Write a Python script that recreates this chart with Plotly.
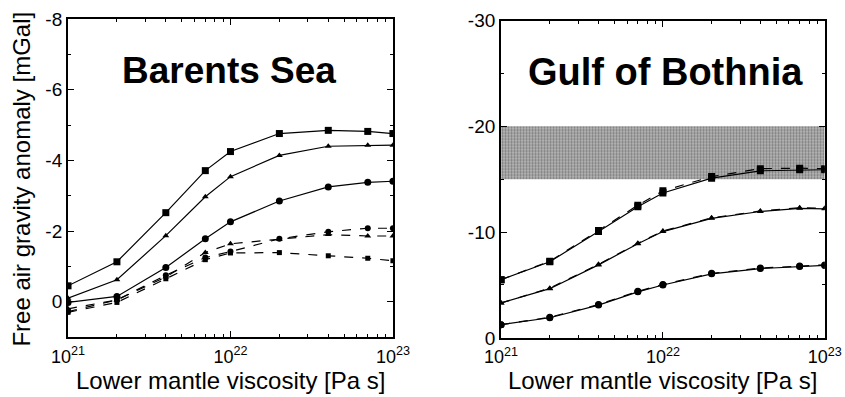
import plotly.graph_objects as go

# Lower mantle viscosity sample points [Pa s]
viscosity = [1e21, 2e21, 4e21, 7e21, 1e22, 2e22, 4e22, 7e22, 1e23]

# Barents Sea free air gravity anomaly [mGal]
barents_sq_solid = [-0.45, -1.13, -2.52, -3.71, -4.25, -4.76, -4.85, -4.82, -4.76]
barents_tri_solid = [-0.10, -0.62, -1.87, -2.97, -3.54, -4.14, -4.40, -4.43, -4.43]
barents_ci_solid = [0.02, -0.15, -0.97, -1.78, -2.26, -2.85, -3.25, -3.38, -3.41]
barents_ci_dash = [0.28, -0.05, -0.75, -1.25, -1.42, -1.78, -1.98, -2.08, -2.08]
barents_tri_dash = [0.20, -0.05, -0.70, -1.39, -1.64, -1.76, -1.90, -1.86, -1.86]
barents_sq_dash = [0.30, 0.02, -0.65, -1.19, -1.38, -1.39, -1.30, -1.23, -1.16]

# Gulf of Bothnia free air gravity anomaly [mGal]
bothnia_sq_solid = [-5.5, -7.2, -10.05, -12.4, -13.7, -15.1, -15.8, -15.9, -15.9]
bothnia_tri_solid = [-3.3, -4.65, -6.9, -8.9, -10.05, -11.3, -11.95, -12.25, -12.2]
bothnia_ci_solid = [-1.25, -1.9, -3.1, -4.35, -5.0, -6.05, -6.55, -6.75, -6.85]
bothnia_sq_dash = [-5.5, -7.25, -10.15, -12.55, -13.9, -15.25, -16.0, -16.05, -16.0]
bothnia_tri_dash = [-3.3, -4.7, -6.95, -8.95, -10.1, -11.35, -12.0, -12.3, -12.25]
bothnia_ci_dash = [-1.25, -1.95, -3.15, -4.4, -5.05, -6.1, -6.6, -6.8, -6.9]

# Observed range for the Gulf of Bothnia [mGal]
observed_band = [-20, -15]

x_tickvals = [1e21, 1e22, 1e23]
x_ticktext = ["10<sup>21</sup>", "10<sup>22</sup>", "10<sup>23</sup>"]
x_minor_tickvals = [m * 10.0 ** e for e in (21, 22) for m in range(2, 10)]
barents_yticks = [0, -2, -4, -6, -8]
barents_yticktext = ["0", "-2", "-4", "-6", "-8"]
bothnia_yticks = [0, -10, -20, -30]
bothnia_yticktext = ["0", "-10", "-20", "-30"]

FONT = "Liberation Sans, Arial, Helvetica, sans-serif"
X_TITLE = "Lower mantle viscosity [Pa s]"
Y_TITLE = "Free air gravity anomaly [mGal]"

fig = go.Figure()

# observed band (drawn first so curves sit on top)
fig.add_trace(go.Scatter(
    x=[viscosity[0], viscosity[-1], viscosity[-1], viscosity[0], viscosity[0]],
    y=[observed_band[0], observed_band[0], observed_band[1], observed_band[1], observed_band[0]],
    xaxis="x2", yaxis="y2", mode="lines", line=dict(width=0),
    fill="toself", fillcolor="#aaaaaa",
    fillpattern=dict(shape=".", bgcolor="#bbbbbb", fgcolor="#3a3a3a",
                     size=3, solidity=0.45),
    hoverinfo="skip", showlegend=False,
))


def add_curve(y, symbol, dash, axis, size):
    xa, ya = ("x", "y") if axis == 1 else ("x2", "y2")
    fig.add_trace(go.Scatter(
        x=viscosity, y=y, xaxis=xa, yaxis=ya,
        mode="lines+markers",
        line=dict(color="black", width=1.2, dash=dash),
        marker=dict(symbol=symbol, size=size, color="black"),
        showlegend=False,
    ))


add_curve(barents_sq_dash, "square", "dash", 1, 5)
add_curve(barents_tri_dash, "triangle-up", "dash", 1, 6)
add_curve(barents_ci_dash, "circle", "dash", 1, 6)
add_curve(barents_sq_solid, "square", "solid", 1, 7)
add_curve(barents_tri_solid, "triangle-up", "solid", 1, 6)
add_curve(barents_ci_solid, "circle", "solid", 1, 7)

add_curve(bothnia_sq_dash, "square", "dash", 2, 7)
add_curve(bothnia_tri_dash, "triangle-up", "dash", 2, 6)
add_curve(bothnia_ci_dash, "circle", "dash", 2, 7)
add_curve(bothnia_sq_solid, "square", "solid", 2, 7)
add_curve(bothnia_tri_solid, "triangle-up", "solid", 2, 6)
add_curve(bothnia_ci_solid, "circle", "solid", 2, 7)

xaxis_common = dict(
    type="log", range=[21, 23], tickvals=x_tickvals, ticktext=x_ticktext,
    ticks="inside", ticklen=6, tickwidth=1, tickcolor="black",
    minor=dict(ticks="inside", ticklen=3, tickcolor="black", showgrid=False,
               tickvals=x_minor_tickvals),
    showline=True, linecolor="black", linewidth=2, mirror="ticks",
    showgrid=False, zeroline=False, automargin=False,
    ticklabelstandoff=2,
    tickfont=dict(family=FONT, size=18, color="black"),
)
yaxis_common = dict(
    ticks="inside", ticklen=6, tickwidth=1, tickcolor="black",
    showline=True, linecolor="black", linewidth=2, mirror="ticks",
    showgrid=False, zeroline=False, automargin=False,
    tickfont=dict(family=FONT, size=19, color="black"),
)

fig.update_layout(
    width=845, height=397,
    margin=dict(l=0, r=0, t=0, b=0),
    paper_bgcolor="white", plot_bgcolor="white",
    xaxis=dict(domain=[0.0805, 0.465], anchor="y", **xaxis_common),
    yaxis=dict(domain=[0.151, 0.952], anchor="x", range=[1, -8],
               tickvals=barents_yticks, ticktext=barents_yticktext,
               minor=dict(ticks="inside", ticklen=3, tickcolor="black",
                          dtick=1, showgrid=False),
               **yaxis_common),
    xaxis2=dict(domain=[0.593, 0.976], anchor="y2", **xaxis_common),
    yaxis2=dict(domain=[0.149, 0.948], anchor="x2", range=[0, -30],
                tickvals=bothnia_yticks, ticktext=bothnia_yticktext,
                minor=dict(ticks="inside", ticklen=3, tickcolor="black",
                           dtick=5, showgrid=False),
                **yaxis_common),
    annotations=[
        dict(text="<b>Barents Sea</b>", xref="x domain", yref="y domain",
             x=0.495, y=0.909, showarrow=False,
             font=dict(family=FONT, size=37, color="black")),
        dict(text="<b>Gulf of Bothnia</b>", xref="x2 domain", yref="y2 domain",
             x=0.509, y=0.912, showarrow=False,
             font=dict(family=FONT, size=38, color="black")),
        dict(text=X_TITLE, xref="x domain", yref="paper",
             x=0.5, y=0.042, yanchor="middle", showarrow=False,
             font=dict(family=FONT, size=24, color="black")),
        dict(text=X_TITLE, xref="x2 domain", yref="paper",
             x=0.5, y=0.042, yanchor="middle", showarrow=False,
             font=dict(family=FONT, size=24, color="black")),
        dict(text=Y_TITLE, xref="paper", yref="paper",
             x=0.026, y=0.55, xanchor="center", yanchor="middle",
             textangle=-90, showarrow=False,
             font=dict(family=FONT, size=24, color="black")),
    ],
)

fig.write_html("out.html")
